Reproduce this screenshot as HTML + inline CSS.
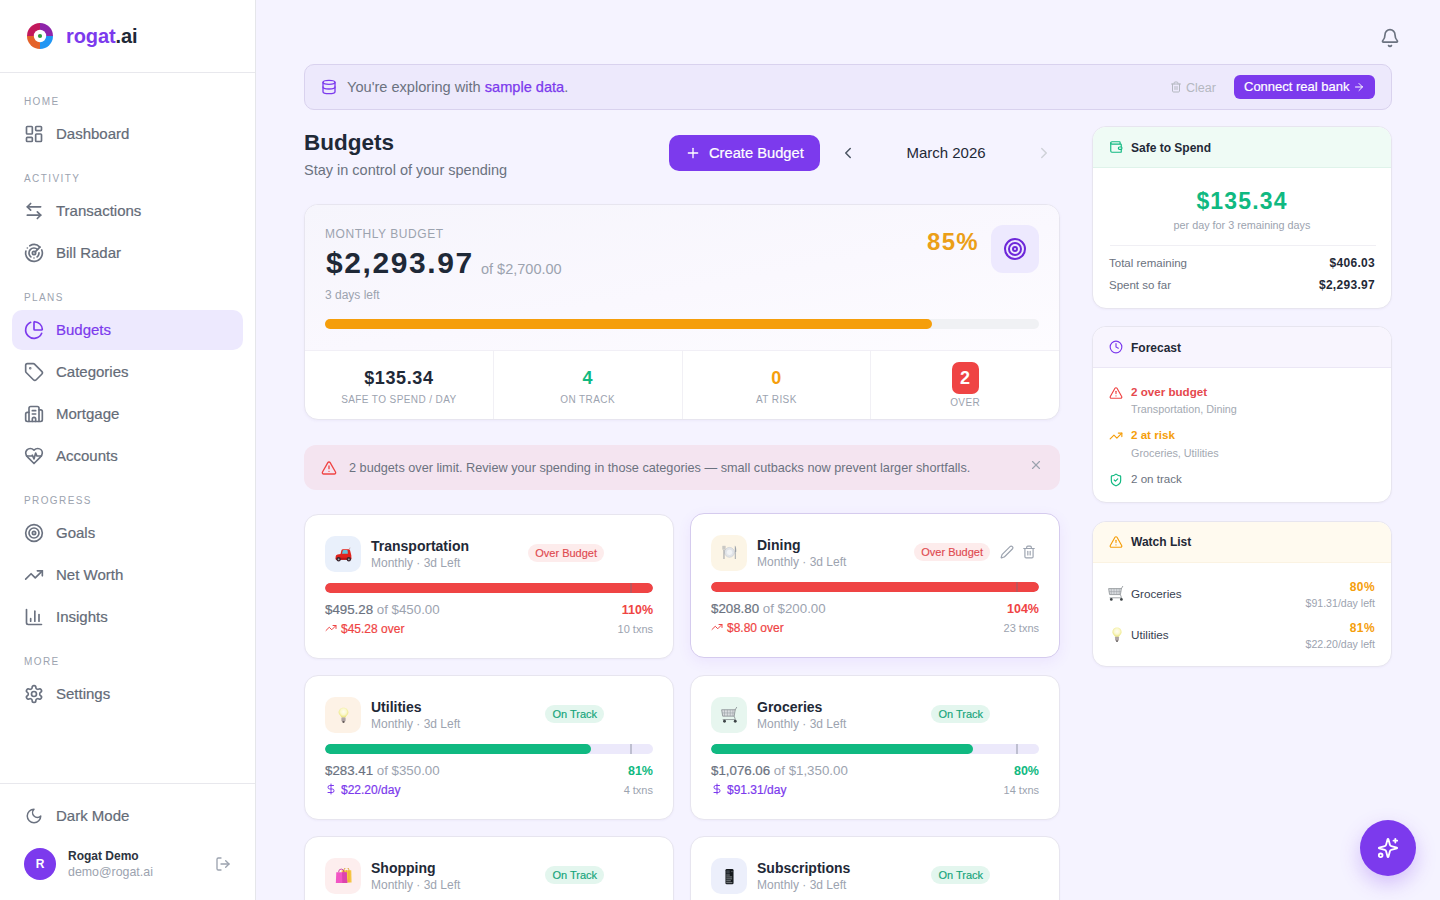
<!DOCTYPE html>
<html><head><meta charset="utf-8">
<style>
*{box-sizing:border-box;margin:0;padding:0}
html,body{width:1440px;height:900px;overflow:hidden}
body{font-family:"Liberation Sans",sans-serif;background:#f5f3ff;color:#1f2937;position:relative}
svg{display:block}
.ic{fill:none;stroke:currentColor;stroke-width:2;stroke-linecap:round;stroke-linejoin:round}
/* sidebar */
#sb{position:absolute;left:0;top:0;width:256px;height:900px;background:#fff;border-right:1px solid #e5e6ea}
#logo{position:absolute;left:0;top:0;width:255px;height:73px;border-bottom:1px solid #e8e8ed}
.lbl{position:absolute;left:24px;font-size:10px;letter-spacing:1.4px;color:#9ca3af;font-weight:400}
.nav{position:absolute;left:12px;width:231px;height:40px;border-radius:10px;color:#646b77;font-size:15px;display:flex;align-items:center}
.nav svg{position:absolute;left:12px;top:10px;width:20px;height:20px;color:#6b7280}
.nav span{position:absolute;left:44px;top:12px;line-height:16px}
.nav.act{background:#ede9fe;color:#7c3aed}
.nav.act svg{color:#7c3aed}
#sbfoot{position:absolute;left:0;top:783px;width:255px;border-top:1px solid #e8e8ed;height:117px}

#banner{position:absolute;left:304px;top:64px;width:1088px;height:46px;border:1px solid #d9d2ee;border-radius:10px;background:#ede9fc}
#cbtn{position:absolute;left:929px;top:10px;width:141px;height:24px;border-radius:6px;background:#7c3aed;color:#fff;font-size:13px;line-height:24px;padding-left:10px}
#create{position:absolute;left:669px;top:135px;width:151px;height:36px;border-radius:10px;background:#7c3aed;color:#fff;font-size:14.7px}
#create span{position:absolute;left:40px;top:9px;line-height:18px}

#mb{position:absolute;left:304px;top:204px;width:756px;height:216px;border:1px solid #e7e5ef;border-radius:14px;background:#fff;overflow:hidden;box-shadow:0 1px 3px rgba(80,60,160,0.05)}
#mbtop{position:absolute;left:0;top:0;width:754px;height:146px;background:linear-gradient(170deg,#f6f5fc 0%,#faf8fe 55%,#fdfcff 100%);border-bottom:1px solid #f1eff6}
#stats{position:absolute;left:0;top:146px;width:754px;height:68px;display:flex}
.st{position:relative;flex:1;border-right:1px solid #f1f0f5;text-align:center}
.sv{position:absolute;left:0;right:0;top:15px;font-size:18px;font-weight:700;line-height:24px}
.sl{position:absolute;left:0;right:0;top:42.5px;font-size:10px;line-height:12px;letter-spacing:0.4px;color:#9ca3af}
#alert{position:absolute;left:304px;top:445px;width:756px;height:45px;border-radius:12px;background:#f4e4f0}

.card{position:absolute;width:370px;height:145px;border:1px solid #e7e5ef;border-radius:14px;background:#fff;box-shadow:0 1px 2px rgba(80,60,160,0.04)}
.card.hov{border-color:#d5cbee;box-shadow:0 4px 14px rgba(124,58,237,0.08)}
.cib{position:absolute;left:20px;top:21px;width:36px;height:36px;border-radius:10px}
.cib svg{position:absolute;left:9.5px;top:9.5px}
.cname{position:absolute;left:66px;top:22px;font-size:14px;font-weight:700;line-height:18px;color:#1f2937}
.csub{position:absolute;left:66px;top:40px;font-size:12px;line-height:16px;color:#9ca3af}
.chd{position:absolute;right:20px;top:29px;height:18px;display:flex;align-items:center}
.pill{height:18px;border-radius:9px;padding:0 7px;font-size:11px;line-height:18px}
.pill.red{background:#fdecec;color:#df4a50}
.pill.grn{background:#e3f6ee;color:#14a47a}
.acts{display:flex;margin-left:6px;color:#9ca3af}
.acts span{display:block;width:21.5px;height:22px;padding:4px}
.bar{position:absolute;left:20px;top:68px;width:328px;height:10px;border-radius:5px;background:#ece9fb;overflow:hidden}
.bar .fill{height:10px;border-radius:5px}
.bar .mk{position:absolute;left:305px;top:0;width:2px;height:10px;background:rgba(107,114,128,0.35)}
.amt{position:absolute;left:20px;top:86.5px;font-size:13.3px;line-height:16px;color:#9ca3af}
.amt b{font-weight:400;color:#6b7280;-webkit-text-stroke:0.2px currentColor}
.pct{position:absolute;right:20px;top:86.5px;font-size:12.5px;font-weight:700;line-height:16px}
.sub{position:absolute;left:20px;top:106px;font-size:12px;line-height:16px;-webkit-text-stroke:0.2px currentColor}
.tx{position:absolute;right:20px;top:106px;font-size:11px;line-height:16px;color:#9ca3af}

.rc{position:absolute;left:1092px;width:300px;border:1px solid #e7e5ef;border-radius:14px;background:#fff;overflow:hidden;box-shadow:0 1px 2px rgba(80,60,160,0.04)}
.rch{position:absolute;left:0;top:0;width:298px;height:41px;border-bottom:1px solid #eee}
.rct{position:absolute;left:38px;top:13px;font-size:12px;font-weight:700;line-height:16px;color:#1f2937}
.kv{position:absolute;left:16px;right:16px;height:16px;font-size:11.5px;line-height:16px;color:#6b7280}
.kv b{position:absolute;right:0;top:0;font-size:12px;color:#1f2937;letter-spacing:0.3px}
.fc{position:absolute;left:38px;font-size:11.6px;line-height:16px}
.fs{position:absolute;left:38px;font-size:10.8px;line-height:14px;color:#a3a9b2}
.wem{position:absolute;left:16px;width:16px;height:16px}
.wn{position:absolute;left:38px;font-size:11.7px;line-height:16px;color:#374151}
.wp{position:absolute;right:16px;font-size:12px;font-weight:700;line-height:16px;color:#f59e0b;letter-spacing:0.4px}
.wd{position:absolute;right:16px;font-size:10.6px;line-height:14px;color:#9ca3af}
#fab{position:absolute;left:1360px;top:820px;width:56px;height:56px;border-radius:50%;background:#7c3aed;box-shadow:0 8px 20px rgba(124,58,237,0.28)}

.med{-webkit-text-stroke:0.25px currentColor}
.nav span{-webkit-text-stroke:0.2px currentColor}
#create span,#cbtn{-webkit-text-stroke:0.2px currentColor}
.pill{-webkit-text-stroke:0.15px currentColor}
</style></head><body>
<div id="sb">
  <div id="logo">
    <svg style="position:absolute;left:27px;top:23px" width="26" height="26" viewBox="0 0 26 26">
      <path d="M13 13 L13 0 A13 13 0 0 0 0 13 Z" fill="#c2185b"/>
      <path d="M13 13 L26 13 A13 13 0 0 0 13 0 Z" fill="#8e24aa"/>
      <path d="M13 13 L0 13 A13 13 0 0 0 13 26 Z" fill="#e4632b"/>
      <path d="M13 13 L13 26 A13 13 0 0 0 26 13 Z" fill="#2196f3"/>
      <circle cx="13" cy="13" r="6.2" fill="#fff"/>
      <circle cx="13" cy="13" r="2.1" fill="#2e9e3e"/>
    </svg>
    <div style="position:absolute;left:66px;top:24px;font-size:20px;font-weight:700;line-height:24px;letter-spacing:-0.1px"><span style="color:#7c3aed">rogat</span><span style="color:#1f2937">.ai</span></div>
  </div>
  <div class="lbl" style="top:96px">HOME</div>
  <div class="nav" style="top:114px"><svg class="ic" viewBox="0 0 24 24"><rect x="3" y="3" width="7" height="9" rx="1"/><rect x="14" y="3" width="7" height="5" rx="1"/><rect x="14" y="12" width="7" height="9" rx="1"/><rect x="3" y="16" width="7" height="5" rx="1"/></svg><span>Dashboard</span></div>
  <div class="lbl" style="top:173px">ACTIVITY</div>
  <div class="nav" style="top:191px"><svg class="ic" viewBox="0 0 24 24"><path d="M8 3 4 7l4 4"/><path d="M4 7h16"/><path d="m16 21 4-4-4-4"/><path d="M20 17H4"/></svg><span>Transactions</span></div>
  <div class="nav" style="top:233px"><svg class="ic" viewBox="0 0 24 24"><path d="M19.07 4.93A10 10 0 0 0 6.99 3.34"/><path d="M4 6h.01"/><path d="M2.29 9.62A10 10 0 1 0 21.31 8.35"/><path d="M16.24 7.76A6 6 0 1 0 8.23 16.67"/><path d="M12 18h.01"/><path d="M17.99 11.66A6 6 0 0 1 15.77 16.67"/><circle cx="12" cy="12" r="2"/><path d="m13.41 10.59 5.66-5.66"/></svg><span>Bill Radar</span></div>
  <div class="lbl" style="top:292px">PLANS</div>
  <div class="nav act" style="top:310px"><svg class="ic" viewBox="0 0 24 24"><path d="M21 12c.552 0 1.005-.449.95-.998a10 10 0 0 0-8.953-8.951c-.55-.055-.998.398-.998.95v8a1 1 0 0 0 1 1z"/><path d="M21.21 15.89A10 10 0 1 1 8 2.83"/></svg><span>Budgets</span></div>
  <div class="nav" style="top:352px"><svg class="ic" viewBox="0 0 24 24"><path d="M12.586 2.586A2 2 0 0 0 11.172 2H4a2 2 0 0 0-2 2v7.172a2 2 0 0 0 .586 1.414l8.704 8.704a2.426 2.426 0 0 0 3.42 0l6.58-6.58a2.426 2.426 0 0 0 0-3.42z"/><circle cx="7.5" cy="7.5" r=".5" fill="currentColor"/></svg><span>Categories</span></div>
  <div class="nav" style="top:394px"><svg class="ic" viewBox="0 0 24 24"><path d="M10 12h4"/><path d="M10 8h4"/><path d="M14 21v-3a2 2 0 0 0-4 0v3"/><path d="M6 10H4a2 2 0 0 0-2 2v7a2 2 0 0 0 2 2h16a2 2 0 0 0 2-2V9a2 2 0 0 0-2-2h-2"/><path d="M6 21V5a2 2 0 0 1 2-2h8a2 2 0 0 1 2 2v16"/></svg><span>Mortgage</span></div>
  <div class="nav" style="top:436px"><svg class="ic" viewBox="0 0 24 24"><path d="M19 14c1.49-1.46 3-3.21 3-5.5A5.5 5.5 0 0 0 16.5 3c-1.76 0-3 .5-4.5 2-1.5-1.5-2.74-2-4.5-2A5.5 5.5 0 0 0 2 8.5c0 2.3 1.5 4.05 3 5.5l7 7Z"/><path d="M3.22 12H9.5l.5-1 2 4.5 2-7 1.5 3.5h5.27"/></svg><span>Accounts</span></div>
  <div class="lbl" style="top:495px">PROGRESS</div>
  <div class="nav" style="top:513px"><svg class="ic" viewBox="0 0 24 24"><circle cx="12" cy="12" r="10"/><circle cx="12" cy="12" r="6"/><circle cx="12" cy="12" r="2"/></svg><span>Goals</span></div>
  <div class="nav" style="top:555px"><svg class="ic" viewBox="0 0 24 24"><path d="M22 7 13.5 15.5 8.5 10.5 2 17"/><path d="M16 7h6v6"/></svg><span>Net Worth</span></div>
  <div class="nav" style="top:597px"><svg class="ic" viewBox="0 0 24 24"><path d="M3 3v16a2 2 0 0 0 2 2h16"/><path d="M18 17V9"/><path d="M13 17V5"/><path d="M8 17v-3"/></svg><span>Insights</span></div>
  <div class="lbl" style="top:656px">MORE</div>
  <div class="nav" style="top:674px"><svg class="ic" viewBox="0 0 24 24"><path d="M12.22 2h-.44a2 2 0 0 0-2 2v.18a2 2 0 0 1-1 1.73l-.43.25a2 2 0 0 1-2 0l-.15-.08a2 2 0 0 0-2.73.73l-.22.38a2 2 0 0 0 .73 2.73l.15.1a2 2 0 0 1 1 1.72v.51a2 2 0 0 1-1 1.74l-.15.09a2 2 0 0 0-.73 2.73l.22.38a2 2 0 0 0 2.73.73l.15-.08a2 2 0 0 1 2 0l.43.25a2 2 0 0 1 1 1.73V20a2 2 0 0 0 2 2h.44a2 2 0 0 0 2-2v-.18a2 2 0 0 1 1-1.73l.43-.25a2 2 0 0 1 2 0l.15.08a2 2 0 0 0 2.73-.73l.22-.39a2 2 0 0 0-.73-2.73l-.15-.08a2 2 0 0 1-1-1.74v-.5a2 2 0 0 1 1-1.74l.15-.09a2 2 0 0 0 .73-2.73l-.22-.38a2 2 0 0 0-2.73-.73l-.15.08a2 2 0 0 1-2 0l-.43-.25a2 2 0 0 1-1-1.73V4a2 2 0 0 0-2-2z"/><circle cx="12" cy="12" r="3"/></svg><span>Settings</span></div>
  <div id="sbfoot">
    <div class="nav" style="top:11.5px"><svg class="ic" viewBox="0 0 24 24" style="width:18px;height:18px;left:13px;top:11px"><path d="M12 3a6 6 0 0 0 9 9 9 9 0 1 1-9-9Z"/></svg><span>Dark Mode</span></div>
    <div style="position:absolute;left:24px;top:64px;width:32px;height:32px;border-radius:50%;background:#7c3aed;color:#fff;font-size:12px;font-weight:700;text-align:center;line-height:32px">R</div>
    <div style="position:absolute;left:68px;top:64px;font-size:12px;font-weight:700;color:#2d3440;line-height:16px">Rogat Demo</div>
    <div style="position:absolute;left:68px;top:80px;font-size:12.4px;color:#9ca3af;line-height:16px">demo@rogat.ai</div>
    <svg class="ic" style="position:absolute;left:215px;top:72px;color:#9ca3af" width="16" height="16" viewBox="0 0 24 24"><path d="M9 21H5a2 2 0 0 1-2-2V5a2 2 0 0 1 2-2h4"/><path d="m16 17 5-5-5-5"/><path d="M21 12H9"/></svg>
  </div>
</div>
<svg class="ic" style="position:absolute;left:1380px;top:28px;color:#6b7280" width="20" height="20" viewBox="0 0 24 24"><path d="M10.268 21a2 2 0 0 0 3.464 0"/><path d="M3.262 15.326A1 1 0 0 0 4 17h16a1 1 0 0 0 .74-1.673C19.41 13.956 18 12.499 18 8A6 6 0 0 0 6 8c0 4.499-1.411 5.956-2.738 7.326"/></svg>
<div id="banner">
  <svg class="ic" style="position:absolute;left:16px;top:14px;color:#7c3aed" width="16" height="16" viewBox="0 0 24 24"><ellipse cx="12" cy="5" rx="9" ry="3"/><path d="M3 5V19A9 3 0 0 0 21 19V5"/><path d="M3 12A9 3 0 0 0 21 12"/></svg>
  <div style="position:absolute;left:42px;top:14px;font-size:14.6px;line-height:16px;color:#6b7280">You're exploring with <span style="color:#7c3aed;-webkit-text-stroke:0.25px #7c3aed">sample data</span>.</div>
  <svg class="ic" style="position:absolute;left:865px;top:16px;color:#b4b8c0" width="12" height="12" viewBox="0 0 24 24"><path d="M3 6h18"/><path d="M19 6v14c0 1-1 2-2 2H7c-1 0-2-1-2-2V6"/><path d="M8 6V4c0-1 1-2 2-2h4c1 0 2 1 2 2v2"/><path d="M10 11v6"/><path d="M14 11v6"/></svg>
  <div style="position:absolute;left:881px;top:15px;font-size:12.5px;line-height:16px;color:#b4b8c0">Clear</div>
  <div id="cbtn">Connect real bank<svg class="ic" style="position:absolute;left:119px;top:6px" width="12" height="12" viewBox="0 0 24 24"><path d="M5 12h14"/><path d="m12 5 7 7-7 7"/></svg></div>
</div>
<div style="position:absolute;left:304px;top:129px;font-size:22.5px;font-weight:700;line-height:28px;color:#1f2937">Budgets</div>
<div style="position:absolute;left:304px;top:161px;font-size:14.5px;line-height:18px;color:#6b7280">Stay in control of your spending</div>
<div id="create"><svg class="ic" style="position:absolute;left:16px;top:10px" width="16" height="16" viewBox="0 0 24 24"><path d="M5 12h14"/><path d="M12 5v14"/></svg><span>Create Budget</span></div>
<svg class="ic" style="position:absolute;left:839px;top:144px;color:#4b5563" width="18" height="18" viewBox="0 0 24 24"><path d="m15 18-6-6 6-6"/></svg>
<div style="position:absolute;left:864px;top:144px;width:164px;text-align:center;font-size:15px;line-height:18px;color:#1f2937">March 2026</div>
<svg class="ic" style="position:absolute;left:1035px;top:144px;color:#cfd2d8" width="18" height="18" viewBox="0 0 24 24"><path d="m9 18 6-6-6-6"/></svg>
<div id="mb">
  <div id="mbtop">
    <div style="position:absolute;left:20px;top:22px;font-size:12px;line-height:14px;letter-spacing:0.55px;color:#9ca3af">MONTHLY BUDGET</div>
    <div style="position:absolute;left:21px;top:40px;font-size:30px;font-weight:700;line-height:36px;letter-spacing:1.6px;color:#1f2937">$2,293.97</div>
    <div style="position:absolute;left:176px;top:56px;font-size:14.5px;line-height:16px;color:#9ca3af">of $2,700.00</div>
    <div style="position:absolute;left:20px;top:81.5px;font-size:12px;line-height:16px;color:#9ca3af">3 days left</div>
    <div style="position:absolute;right:80px;top:23px;font-size:24px;font-weight:700;line-height:28px;color:#eb9f18;letter-spacing:1.3px">85%</div>
    <div style="position:absolute;right:20px;top:20px;width:48px;height:48px;border-radius:12px;background:#ede9fe">
      <svg class="ic" style="position:absolute;left:12px;top:12px;color:#6d28d9" width="24" height="24" viewBox="0 0 24 24"><circle cx="12" cy="12" r="10"/><circle cx="12" cy="12" r="6"/><circle cx="12" cy="12" r="2"/></svg>
    </div>
    <div style="position:absolute;left:20px;top:114px;width:714px;height:10px;border-radius:5px;background:#f0f1f4"><div style="width:607px;height:10px;border-radius:5px;background:#f59e0b"></div></div>
  </div>
  <div id="stats">
    <div class="st"><div class="sv" style="color:#1f2937;letter-spacing:0.6px">$135.34</div><div class="sl">SAFE TO SPEND / DAY</div></div>
    <div class="st"><div class="sv" style="color:#10b981">4</div><div class="sl">ON TRACK</div></div>
    <div class="st"><div class="sv" style="color:#f59e0b">0</div><div class="sl">AT RISK</div></div>
    <div class="st" style="border-right:0"><div class="sv"><span style="display:inline-block;width:27px;height:32px;border-radius:7px;background:#ef4444;color:#fff;line-height:32px;margin-top:-7px">2</span></div><div class="sl" style="top:45.7px">OVER</div></div>
  </div>
</div>
<div id="alert">
  <svg class="ic" style="position:absolute;left:17px;top:15px;color:#ef4444" width="16" height="16" viewBox="0 0 24 24"><path d="m21.73 18-8-14a2 2 0 0 0-3.48 0l-8 14A2 2 0 0 0 4 21h16a2 2 0 0 0 1.73-3"/><path d="M12 9v4"/><path d="M12 17h.01"/></svg>
  <div style="position:absolute;left:45px;top:15px;font-size:12.7px;line-height:16px;color:#6b7280">2 budgets over limit. Review your spending in those categories — small cutbacks now prevent larger shortfalls.</div>
  <svg class="ic" style="position:absolute;left:725px;top:13px;color:#9ca3af" width="14" height="14" viewBox="0 0 24 24"><path d="M18 6 6 18"/><path d="m6 6 12 12"/></svg>
</div>
<div class="card" style="left:304px;top:514px"><div class="cib" style="background:#e9f0fb"><svg width="17" height="17" viewBox="0 0 16 16"><path d="M0.6 10.2 Q0.6 8.3 2.4 8 L5.2 7.6 L6 4.2 Q6.3 3 7.6 3 L12.6 3 Q13.8 3 14.2 4.2 L15.1 7.8 Q15.5 9 15.4 10.5 L15.3 12.3 Q15.2 12.9 14.6 12.9 L1.4 12.9 Q0.6 12.9 0.6 12.1 Z" fill="#e2231d"/><path d="M6.6 7.3 L7.2 4.4 Q7.4 3.7 8.1 3.7 L11.2 3.7 Q11.8 3.7 11.9 4.4 L12.1 7.3 Z" fill="#68c3da"/><path d="M0.7 11 L15.35 11 L15.3 12.3 Q15.2 12.9 14.6 12.9 L1.4 12.9 Q0.7 12.9 0.7 12.1Z" fill="#b5161b"/><circle cx="3.4" cy="12.5" r="2.05" fill="#3b2730"/><circle cx="3.4" cy="12.5" r=".8" fill="#a0a8ad"/><circle cx="13" cy="12.5" r="2.05" fill="#3b2730"/><circle cx="13" cy="12.5" r=".8" fill="#a0a8ad"/><path d="M13.5 3.1 L14.1 1.5" stroke="#9a7070" stroke-width=".5"/></svg></div><div class="cname">Transportation</div><div class="csub">Monthly · 3d Left</div><div class="chd"><div class="pill red">Over Budget</div><div class="acts" style="opacity:0"><span><svg class="ic" width="14" height="14" viewBox="0 0 24 24"><path d="M21.174 6.812a1 1 0 0 0-3.986-3.987L3.842 16.174a2 2 0 0 0-.5.83l-1.321 4.352a.5.5 0 0 0 .623.622l4.353-1.32a2 2 0 0 0 .83-.497z"/></svg></span><span><svg class="ic" width="14" height="14" viewBox="0 0 24 24"><path d="M3 6h18"/><path d="M19 6v14c0 1-1 2-2 2H7c-1 0-2-1-2-2V6"/><path d="M8 6V4c0-1 1-2 2-2h4c1 0 2 1 2 2v2"/><path d="M10 11v6"/><path d="M14 11v6"/></svg></span></div></div><div class="bar ov"><div class="fill" style="width:100%;background:#ef4444"></div><div class="mk"></div></div><div class="amt"><b>$495.28</b> of $450.00</div><div class="pct" style="color:#ef4444">110%</div><div class="sub" style="color:#ef4444"><svg class="ic" width="12" height="12" viewBox="0 0 24 24" style="display:inline-block;vertical-align:-1px;margin-right:4px"><path d="M22 7 13.5 15.5 8.5 10.5 2 17"/><path d="M16 7h6v6"/></svg>$45.28 over</div><div class="tx">10 txns</div></div>
<div class="card hov" style="left:690px;top:513px"><div class="cib" style="background:#fcf5e6"><svg width="17" height="17" viewBox="0 1.4 16 16"><circle cx="8" cy="8.3" r="4.6" fill="#e3e6ea" stroke="#c5cad1" stroke-width=".6"/><circle cx="8" cy="8.3" r="3" fill="#f1f3f5" stroke="#d3d7dc" stroke-width=".4"/><path d="M1.8 2.2v3.6M2.8 2.2v3.6M3.8 2.2v3.6" stroke="#8a9099" stroke-width=".5"/><path d="M1.8 5.6 Q2.8 6.6 3.8 5.6 L3.2 6.4 L3.2 14.6 L2.4 14.6 L2.4 6.4Z" fill="#8a9099"/><path d="M13.3 2 Q14.6 3.5 14.3 8 L13.8 8 L13.9 14.6 L13 14.6 L13 2.2Z" fill="#9aa0a8"/></svg></div><div class="cname">Dining</div><div class="csub">Monthly · 3d Left</div><div class="chd"><div class="pill red">Over Budget</div><div class="acts"><span><svg class="ic" width="14" height="14" viewBox="0 0 24 24"><path d="M21.174 6.812a1 1 0 0 0-3.986-3.987L3.842 16.174a2 2 0 0 0-.5.83l-1.321 4.352a.5.5 0 0 0 .623.622l4.353-1.32a2 2 0 0 0 .83-.497z"/></svg></span><span><svg class="ic" width="14" height="14" viewBox="0 0 24 24"><path d="M3 6h18"/><path d="M19 6v14c0 1-1 2-2 2H7c-1 0-2-1-2-2V6"/><path d="M8 6V4c0-1 1-2 2-2h4c1 0 2 1 2 2v2"/><path d="M10 11v6"/><path d="M14 11v6"/></svg></span></div></div><div class="bar ov"><div class="fill" style="width:100%;background:#ef4444"></div><div class="mk"></div></div><div class="amt"><b>$208.80</b> of $200.00</div><div class="pct" style="color:#ef4444">104%</div><div class="sub" style="color:#ef4444"><svg class="ic" width="12" height="12" viewBox="0 0 24 24" style="display:inline-block;vertical-align:-1px;margin-right:4px"><path d="M22 7 13.5 15.5 8.5 10.5 2 17"/><path d="M16 7h6v6"/></svg>$8.80 over</div><div class="tx">23 txns</div></div>
<div class="card" style="left:304px;top:675px"><div class="cib" style="background:#fdf2e6"><svg width="17" height="17" viewBox="0 -0.6 16 16"><defs><radialGradient id="bg1" cx="50%" cy="42%" r="55%"><stop offset="0" stop-color="#fffdf2"/><stop offset=".55" stop-color="#fbf8cf"/><stop offset="1" stop-color="#ece77e"/></radialGradient></defs><path d="M8 0 C10.8 0 12.6 2 12.6 4.6 C12.6 6.6 10.4 7.6 9.9 9.2 L6.1 9.2 C5.6 7.6 3.4 6.6 3.4 4.6 C3.4 2 5.2 0 8 0Z" fill="url(#bg1)"/><rect x="6.1" y="9.2" width="3.8" height="3.7" rx=".5" fill="#a89d9c"/><path d="M6.1 10.4h3.8M6.1 11.6h3.8" stroke="#c7bfbe" stroke-width=".4"/><path d="M6.8 12.9 h2.4 l-.5 1.3 h-1.4z" fill="#3d3535"/></svg></div><div class="cname">Utilities</div><div class="csub">Monthly · 3d Left</div><div class="chd"><div class="pill grn">On Track</div><div class="acts" style="opacity:0"><span><svg class="ic" width="14" height="14" viewBox="0 0 24 24"><path d="M21.174 6.812a1 1 0 0 0-3.986-3.987L3.842 16.174a2 2 0 0 0-.5.83l-1.321 4.352a.5.5 0 0 0 .623.622l4.353-1.32a2 2 0 0 0 .83-.497z"/></svg></span><span><svg class="ic" width="14" height="14" viewBox="0 0 24 24"><path d="M3 6h18"/><path d="M19 6v14c0 1-1 2-2 2H7c-1 0-2-1-2-2V6"/><path d="M8 6V4c0-1 1-2 2-2h4c1 0 2 1 2 2v2"/><path d="M10 11v6"/><path d="M14 11v6"/></svg></span></div></div><div class="bar"><div class="fill" style="width:81%;background:#10b981"></div><div class="mk"></div></div><div class="amt"><b>$283.41</b> of $350.00</div><div class="pct" style="color:#10b981">81%</div><div class="sub" style="color:#7c3aed"><svg class="ic" width="12" height="12" viewBox="0 0 24 24" style="display:inline-block;vertical-align:-1px;margin-right:4px"><path d="M12 2v20"/><path d="M17 5H9.5a3.5 3.5 0 0 0 0 7h5a3.5 3.5 0 0 1 0 7H6"/></svg>$22.20/day</div><div class="tx">4 txns</div></div>
<div class="card" style="left:690px;top:675px"><div class="cib" style="background:#e7f6ef"><svg width="17" height="17" viewBox="0 0 16 16"><path d="M0.6 2.6 L13.4 2.6 L12.4 8.6 L1.6 8.6 Z" fill="#d9dcdf" stroke="#8d9296" stroke-width=".8" stroke-linejoin="round"/><path d="M3.3 2.6v6M6 2.6v6M8.7 2.6v6M11.2 2.6v6M0.9 5.6h12.2" stroke="#9aa0a5" stroke-width=".55"/><path d="M13.4 2.6 L15 -0.2" stroke="#8d9296" stroke-width=".8" stroke-linecap="round"/><path d="M12.4 8.6 L13.5 11.8 L1.6 11.8" fill="none" stroke="#8d9296" stroke-width=".8"/><circle cx="3.3" cy="13.4" r="1.35" fill="#3e4447"/><circle cx="13.4" cy="13.4" r="1.35" fill="#3e4447"/></svg></div><div class="cname">Groceries</div><div class="csub">Monthly · 3d Left</div><div class="chd"><div class="pill grn">On Track</div><div class="acts" style="opacity:0"><span><svg class="ic" width="14" height="14" viewBox="0 0 24 24"><path d="M21.174 6.812a1 1 0 0 0-3.986-3.987L3.842 16.174a2 2 0 0 0-.5.83l-1.321 4.352a.5.5 0 0 0 .623.622l4.353-1.32a2 2 0 0 0 .83-.497z"/></svg></span><span><svg class="ic" width="14" height="14" viewBox="0 0 24 24"><path d="M3 6h18"/><path d="M19 6v14c0 1-1 2-2 2H7c-1 0-2-1-2-2V6"/><path d="M8 6V4c0-1 1-2 2-2h4c1 0 2 1 2 2v2"/><path d="M10 11v6"/><path d="M14 11v6"/></svg></span></div></div><div class="bar"><div class="fill" style="width:80%;background:#10b981"></div><div class="mk"></div></div><div class="amt"><b>$1,076.06</b> of $1,350.00</div><div class="pct" style="color:#10b981">80%</div><div class="sub" style="color:#7c3aed"><svg class="ic" width="12" height="12" viewBox="0 0 24 24" style="display:inline-block;vertical-align:-1px;margin-right:4px"><path d="M12 2v20"/><path d="M17 5H9.5a3.5 3.5 0 0 0 0 7h5a3.5 3.5 0 0 1 0 7H6"/></svg>$91.31/day</div><div class="tx">14 txns</div></div>
<div class="card" style="left:304px;top:836px"><div class="cib" style="background:#fdeeee"><svg width="17" height="17" viewBox="0 0 16 16"><path d="M6.2 2 L15.3 2 L15.6 13.7 L6.6 13.7Z" fill="#f6c445"/><path d="M8.5 2v11.6M10.8 2v11.6M13.1 2v11.6" stroke="#e0a526" stroke-width=".6"/><path d="M8.4 2 Q8.4 -0.4 10.8 -0.4 Q13.2 -0.4 13.2 2" fill="none" stroke="#d79c22" stroke-width=".7"/><path d="M1.2 3.9 L11 3.9 L11.6 14.2 L0.8 14.2Z" fill="#f255c4"/><path d="M6.6 3.9 L11 3.9 L11.6 14.2 L6.9 14.2Z" fill="#dc44ad"/><path d="M3.4 3.9 Q3.4 1 5.9 1 Q8.4 1 8.4 3.9" fill="none" stroke="#c23596" stroke-width=".8"/></svg></div><div class="cname">Shopping</div><div class="csub">Monthly · 3d Left</div><div class="chd"><div class="pill grn">On Track</div><div class="acts" style="opacity:0"><span><svg class="ic" width="14" height="14" viewBox="0 0 24 24"><path d="M21.174 6.812a1 1 0 0 0-3.986-3.987L3.842 16.174a2 2 0 0 0-.5.83l-1.321 4.352a.5.5 0 0 0 .623.622l4.353-1.32a2 2 0 0 0 .83-.497z"/></svg></span><span><svg class="ic" width="14" height="14" viewBox="0 0 24 24"><path d="M3 6h18"/><path d="M19 6v14c0 1-1 2-2 2H7c-1 0-2-1-2-2V6"/><path d="M8 6V4c0-1 1-2 2-2h4c1 0 2 1 2 2v2"/><path d="M10 11v6"/><path d="M14 11v6"/></svg></span></div></div></div>
<div class="card" style="left:690px;top:836px"><div class="cib" style="background:#eceffb"><svg width="17" height="17" viewBox="0 0 16 16"><rect x="4.2" y="1" width="7.6" height="14.4" rx="1.2" fill="#15191d"/><rect x="5" y="2.2" width="3.2" height="3" rx=".4" fill="#3a4046"/><path d="M5.3 6.6h2.6M5.3 8.4h4.8M5.3 10.2h4.8M5.3 12h3.6M5.3 13.8h5" stroke="#c9ced2" stroke-width=".55" stroke-linecap="round"/><circle cx="10.3" cy="3.4" r=".5" fill="#8a9096"/></svg></div><div class="cname">Subscriptions</div><div class="csub">Monthly · 3d Left</div><div class="chd"><div class="pill grn">On Track</div><div class="acts" style="opacity:0"><span><svg class="ic" width="14" height="14" viewBox="0 0 24 24"><path d="M21.174 6.812a1 1 0 0 0-3.986-3.987L3.842 16.174a2 2 0 0 0-.5.83l-1.321 4.352a.5.5 0 0 0 .623.622l4.353-1.32a2 2 0 0 0 .83-.497z"/></svg></span><span><svg class="ic" width="14" height="14" viewBox="0 0 24 24"><path d="M3 6h18"/><path d="M19 6v14c0 1-1 2-2 2H7c-1 0-2-1-2-2V6"/><path d="M8 6V4c0-1 1-2 2-2h4c1 0 2 1 2 2v2"/><path d="M10 11v6"/><path d="M14 11v6"/></svg></span></div></div></div>
<div class="rc" style="top:126px;height:183px">
  <div class="rch" style="background:#effbf5;border-bottom-color:#dff3ea">
    <svg class="ic" style="position:absolute;left:16px;top:13px;color:#10b981" width="14" height="14" viewBox="0 0 24 24"><path d="M19 7V4a1 1 0 0 0-1-1H5a2 2 0 0 0 0 4h15a1 1 0 0 1 1 1v4h-3a2 2 0 0 0 0 4h3a1 1 0 0 0 1-1v-2a1 1 0 0 0-1-1"/><path d="M3 5v14a2 2 0 0 0 2 2h15a1 1 0 0 0 1-1v-4"/></svg>
    <div class="rct">Safe to Spend</div>
  </div>
  <div style="position:absolute;left:0;right:0;top:60px;text-align:center;font-size:23px;font-weight:700;line-height:28px;color:#10b981;letter-spacing:1.15px">$135.34</div>
  <div style="position:absolute;left:0;right:0;top:91px;text-align:center;font-size:10.8px;line-height:14px;color:#9ca3af">per day for 3 remaining days</div>
  <div style="position:absolute;left:17px;right:15px;top:118px;border-top:1px solid #f0eff4"></div>
  <div class="kv" style="top:128px"><span>Total remaining</span><b>$406.03</b></div>
  <div class="kv" style="top:150px"><span>Spent so far</span><b>$2,293.97</b></div>
</div>
<div class="rc" style="top:326px;height:177px">
  <div class="rch" style="background:#f8f5fe;border-bottom-color:#ebe7f5">
    <svg class="ic" style="position:absolute;left:16px;top:13px;color:#7c3aed" width="14" height="14" viewBox="0 0 24 24"><circle cx="12" cy="12" r="10"/><path d="M12 6v6l4 2"/></svg>
    <div class="rct">Forecast</div>
  </div>
  <svg class="ic" style="position:absolute;left:16px;top:59px;color:#ef4444" width="14" height="14" viewBox="0 0 24 24"><path d="m21.73 18-8-14a2 2 0 0 0-3.48 0l-8 14A2 2 0 0 0 4 21h16a2 2 0 0 0 1.73-3"/><path d="M12 9v4"/><path d="M12 17h.01"/></svg>
  <div class="fc" style="top:57px;color:#e5484d;font-weight:700">2 over budget</div>
  <div class="fs" style="top:75px">Transportation, Dining</div>
  <svg class="ic" style="position:absolute;left:16px;top:102px;color:#f59e0b" width="14" height="14" viewBox="0 0 24 24"><path d="M22 7 13.5 15.5 8.5 10.5 2 17"/><path d="M16 7h6v6"/></svg>
  <div class="fc" style="top:100px;color:#f59e0b;font-weight:700">2 at risk</div>
  <div class="fs" style="top:119px">Groceries, Utilities</div>
  <svg class="ic" style="position:absolute;left:16px;top:146px;color:#10b981" width="14" height="14" viewBox="0 0 24 24"><path d="M20 13c0 5-3.5 7.5-7.66 8.95a1 1 0 0 1-.67-.01C7.5 20.5 4 18 4 13V6a1 1 0 0 1 1-1c2 0 4.5-1.2 6.24-2.72a1.17 1.17 0 0 1 1.52 0C14.51 3.81 17 5 19 5a1 1 0 0 1 1 1z"/><path d="m9 12 2 2 4-4"/></svg>
  <div class="fc" style="top:144px;color:#6b7280">2 on track</div>
</div>
<div class="rc" style="top:521px;height:146px">
  <div class="rch" style="background:#fffaef;border-bottom-color:#fbf3e2">
    <svg class="ic" style="position:absolute;left:16px;top:13px;color:#f59e0b" width="14" height="14" viewBox="0 0 24 24"><path d="m21.73 18-8-14a2 2 0 0 0-3.48 0l-8 14A2 2 0 0 0 4 21h16a2 2 0 0 0 1.73-3"/><path d="M12 9v4"/><path d="M12 17h.01"/></svg>
    <div class="rct" style="top:12px">Watch List</div>
  </div>
  <div class="wem" style="top:63.5px;left:14.5px"><svg width="16" height="16" viewBox="0 0 16 16"><path d="M0.6 2.6 L13.4 2.6 L12.4 8.6 L1.6 8.6 Z" fill="#d9dcdf" stroke="#8d9296" stroke-width=".8" stroke-linejoin="round"/><path d="M3.3 2.6v6M6 2.6v6M8.7 2.6v6M11.2 2.6v6M0.9 5.6h12.2" stroke="#9aa0a5" stroke-width=".55"/><path d="M13.4 2.6 L15 -0.2" stroke="#8d9296" stroke-width=".8" stroke-linecap="round"/><path d="M12.4 8.6 L13.5 11.8 L1.6 11.8" fill="none" stroke="#8d9296" stroke-width=".8"/><circle cx="3.3" cy="13.4" r="1.35" fill="#3e4447"/><circle cx="13.4" cy="13.4" r="1.35" fill="#3e4447"/></svg></div>
  <div class="wn" style="top:64px">Groceries</div>
  <div class="wp" style="top:56.5px">80%</div>
  <div class="wd" style="top:73.5px">$91.31/day left</div>
  <div class="wem" style="top:104.5px"><svg width="16" height="16" viewBox="0 -0.6 16 16"><defs><radialGradient id="bg2" cx="50%" cy="42%" r="55%"><stop offset="0" stop-color="#fffdf2"/><stop offset=".55" stop-color="#fbf8cf"/><stop offset="1" stop-color="#ece77e"/></radialGradient></defs><path d="M8 0 C10.8 0 12.6 2 12.6 4.6 C12.6 6.6 10.4 7.6 9.9 9.2 L6.1 9.2 C5.6 7.6 3.4 6.6 3.4 4.6 C3.4 2 5.2 0 8 0Z" fill="url(#bg2)"/><rect x="6.1" y="9.2" width="3.8" height="3.7" rx=".5" fill="#a89d9c"/><path d="M6.1 10.4h3.8M6.1 11.6h3.8" stroke="#c7bfbe" stroke-width=".4"/><path d="M6.8 12.9 h2.4 l-.5 1.3 h-1.4z" fill="#3d3535"/></svg></div>
  <div class="wn" style="top:105px">Utilities</div>
  <div class="wp" style="top:97.5px">81%</div>
  <div class="wd" style="top:114.5px">$22.20/day left</div>
</div>
<div id="fab"><svg class="ic" style="position:absolute;left:17px;top:17px;color:#fff" width="22" height="22" viewBox="0 0 24 24"><path d="M9.937 15.5A2 2 0 0 0 8.5 14.063l-6.135-1.582a.5.5 0 0 1 0-.962L8.5 9.936A2 2 0 0 0 9.937 8.5l1.582-6.135a.5.5 0 0 1 .963 0L14.063 8.5A2 2 0 0 0 15.5 9.937l6.135 1.581a.5.5 0 0 1 0 .964L15.5 14.063a2 2 0 0 0-1.437 1.437l-1.582 6.135a.5.5 0 0 1-.963 0z"/><path d="M20 2v4"/><path d="M22 4h-4"/><circle cx="4" cy="20" r="2"/></svg></div>

<!--MAIN-->
</body></html>
